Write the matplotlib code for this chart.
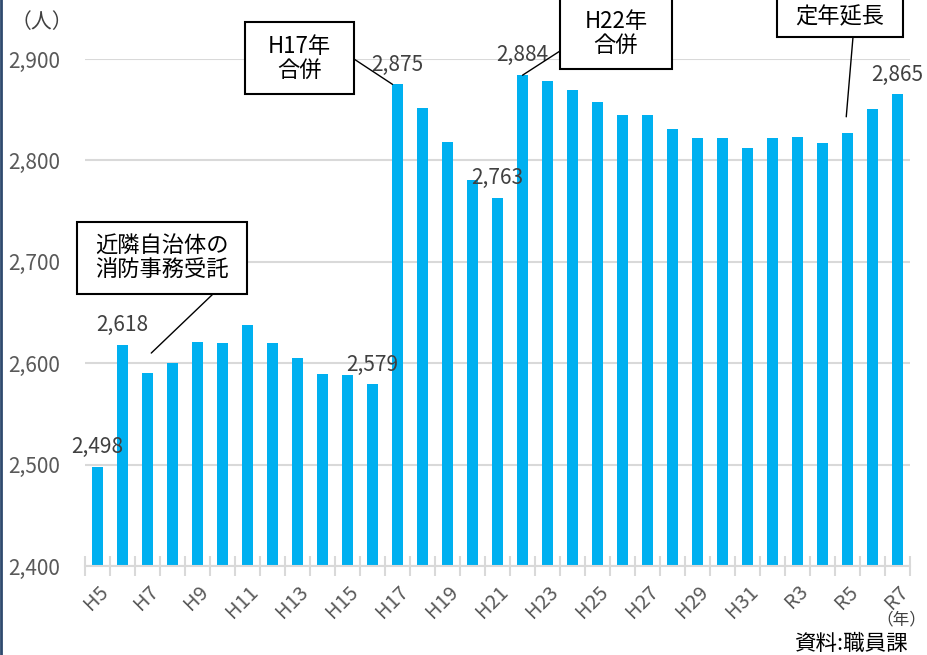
import matplotlib
matplotlib.use('Agg')
import matplotlib.pyplot as plt
from matplotlib.patches import Rectangle
from matplotlib.lines import Line2D
import numpy as np

plt.rcParams['font.family'] = ['Noto Sans CJK JP', 'DejaVu Sans']

# データ（職員数の推移）
years = ['H5', 'H6', 'H7', 'H8', 'H9', 'H10', 'H11', 'H12', 'H13', 'H14', 'H15',
         'H16', 'H17', 'H18', 'H19', 'H20', 'H21', 'H22', 'H23', 'H24', 'H25',
         'H26', 'H27', 'H28', 'H29', 'H30', 'H31', 'R2', 'R3', 'R4', 'R5', 'R6', 'R7']
staff = [2498, 2618, 2590, 2600, 2621, 2620, 2638, 2620, 2605, 2589, 2588,
         2579, 2875, 2852, 2818, 2781, 2763, 2884, 2878, 2869, 2858,
         2845, 2845, 2831, 2822, 2822, 2812, 2822, 2823, 2817, 2827, 2851, 2865]
labeled_years = ['H5', 'H6', 'H16', 'H17', 'H21', 'H22', 'R7']

W, H = 927, 655
fig = plt.figure(figsize=(W / 100, H / 100), dpi=100)
ax = fig.add_axes([85 / W, 1 - 566 / H, 825 / W, (566 - 59) / H])

x = np.arange(len(years))
ax.bar(x, staff, width=0.47, color='#00B0F0', zorder=2)

ax.set_xlim(-0.5, len(years) - 0.5)
ax.set_ylim(2400, 2900)
ax.set_yticks(np.arange(2400, 2901, 100))
ax.set_yticklabels([f'{v:,}' for v in range(2400, 2901, 100)])
ax.grid(axis='y', color='#D9D9D9', lw=1.5, zorder=0)
for s in ['top', 'right', 'left']:
    ax.spines[s].set_visible(False)
ax.spines['bottom'].set_color('#D9D9D9')
ax.spines['bottom'].set_linewidth(1.5)
ax.tick_params(axis='y', length=0, labelsize=15, labelcolor='#595959', pad=18)

# x軸：区切りの目盛りと1年おきのラベル
ax.set_xticks(np.arange(-0.5, len(years), 1), minor=True)
ax.tick_params(axis='x', which='minor', direction='inout', length=14,
               width=1.5, color='#D9D9D9')
ax.set_xticks(x[::2])
ax.set_xticklabels(years[::2], rotation=45, ha='right', va='top',
                   rotation_mode='anchor')
ax.tick_params(axis='x', which='major', length=0, labelsize=14.5,
               labelcolor='#595959', pad=11)

# 数値ラベル
for i, (yr, v) in enumerate(zip(years, staff)):
    if yr in labeled_years:
        ax.annotate(f'{v:,}', xy=(i, v), xytext=(0, 10), textcoords='offset points',
                    ha='center', va='baseline', fontsize=15, color='#404040',
                    annotation_clip=False)


def px(xp, yp):
    return (xp, H - yp)


def callout(lines, box, start, target):
    x0, y0, x1, y1 = box
    fig.patches.append(Rectangle((x0 / W, 1 - y1 / H), (x1 - x0) / W, (y1 - y0) / H,
                                 transform=fig.transFigure, fill=True, fc='white',
                                 ec='black', lw=1.5, zorder=5))
    fig.text((x0 + x1) / 2 / W, 1 - (y0 + y1) / 2 / H, lines, ha='center',
             va='center', fontsize=16, color='black', linespacing=1.05, zorder=6)
    ax.annotate('', xy=target, xycoords='data', xytext=px(*start),
                textcoords='figure pixels',
                arrowprops=dict(arrowstyle='-', color='black', lw=1,
                                shrinkA=0, shrinkB=0), annotation_clip=False)


callout('H17年\n合併', (245, 22, 354, 94), (354, 59), (11.8, 2875))
callout('近隣自治体の\n消防事務受託', (77, 222, 247, 294), (213, 294), (2.15, 2610))
callout('H22年\n合併', (560, -3, 672, 69), (560, 51), (17, 2884))
callout('定年延長', (777, -3, 903, 37), (853, 37), (29.95, 2843))

fig.text(42 / W, 1 - 22 / H, '（人）', ha='center', va='center', fontsize=15,
         color='#404040')
fig.text(926 / W, 1 - 620 / H, '（年）', ha='right', va='center', fontsize=12,
         color='#404040')
fig.text(851 / W, 1 - 644 / H, '資料:職員課', ha='center', va='center', fontsize=15.5,
         color='black')

# 左端の枠線
fig.add_artist(Line2D([1 / W, 1 / W], [0, 1], transform=fig.transFigure,
                      color='#2F4A6E', lw=2))

fig.savefig('out.png', dpi=100)
